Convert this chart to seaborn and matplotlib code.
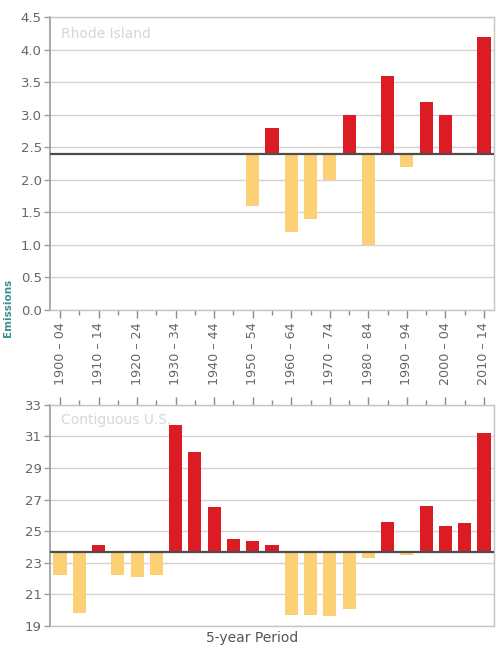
import numpy as np
import pandas as pd
import matplotlib
matplotlib.use("Agg")
import matplotlib.pyplot as plt
import seaborn as sns

# Five-year periods, 1900-04 through 2010-14
periods = [
    "1900 – 04", "1905 – 09", "1910 – 14", "1915 – 19", "1920 – 24", "1925 – 29",
    "1930 – 34", "1935 – 39", "1940 – 44", "1945 – 49", "1950 – 54", "1955 – 59",
    "1960 – 64", "1965 – 69", "1970 – 74", "1975 – 79", "1980 – 84", "1985 – 89",
    "1990 – 94", "1995 – 99", "2000 – 04", "2005 – 09", "2010 – 14",
]

# Rhode Island (records begin in the 1950s)
ri_values = [np.nan] * 10 + [1.6, 2.8, 1.2, 1.4, 2.0, 3.0, 1.0, 3.6, 2.2, 3.2, 3.0, np.nan, 4.2]
ri_baseline = 2.4

# Contiguous U.S.
us_values = [22.2, 19.8, 24.1, 22.2, 22.1, 22.2, 31.7, 30.0, 26.5, 24.5, 24.4, 24.1,
             19.7, 19.7, 19.6, 20.1, 23.3, 25.6, 23.5, 26.6, 25.3, 25.5, 31.2]
us_baseline = 23.7

ri_ticks = [0.0, 0.5, 1.0, 1.5, 2.0, 2.5, 3.0, 3.5, 4.0, 4.5]
us_ticks = [19, 21, 23, 25, 27, 29, 31, 33]

RED = "#dc1c24"
YELLOW = "#fcd175"
GRID = "#d4d4d4"
SPINE = "#c4c4c4"
TEXT = "#666666"

sns.set_theme(style="white")
plt.rcParams["font.family"] = ["DejaVu Sans"]

fig = plt.figure(figsize=(5.0, 6.54), dpi=100)
ax1 = fig.add_axes([0.100, 0.526, 0.888, 0.448])
ax2 = fig.add_axes([0.100, 0.043, 0.888, 0.338])


def draw_panel(ax, values, baseline, yticks, title):
    df = pd.DataFrame({"period": periods, "value": values})
    df = df.dropna()
    df["dev"] = df["value"] - baseline
    df["sign"] = np.where(df["dev"] >= 0, "above", "below")
    sns.barplot(data=df, x="period", y="dev", hue="sign", order=periods,
                palette={"above": RED, "below": YELLOW}, saturation=1,
                width=0.68, bottom=baseline, errorbar=None, legend=False,
                dodge=False, linewidth=0, ax=ax, zorder=2)
    ax.set_xlim(-0.52, len(periods) - 0.48)
    ax.set_ylim(yticks[0], yticks[-1])
    ax.set_yticks(yticks)
    ax.yaxis.grid(True, color=GRID, linewidth=1.0)
    ax.xaxis.grid(False)
    ax.set_axisbelow(True)
    ax.axhline(baseline, color="#4d4d4d", linewidth=1.6, zorder=3)
    ax.set_xlabel("")
    ax.set_ylabel("")
    for side in ["top", "right", "bottom"]:
        ax.spines[side].set_color(SPINE)
        ax.spines[side].set_linewidth(1.0)
    ax.spines["left"].set_color("#9a9a9a")
    ax.spines["left"].set_linewidth(1.2)
    ax.tick_params(axis="y", labelsize=9.5, labelcolor=TEXT, color="#9a9a9a",
                   length=4, width=1, left=True, pad=2)
    ax.text(0.025, 0.965, title, transform=ax.transAxes, ha="left", va="top",
            fontsize=10, color="#d6d6d6")
    ax.set_xticks(range(0, len(periods), 2))
    ax.set_xticks(range(1, len(periods), 2), minor=True)


draw_panel(ax1, ri_values, ri_baseline, ri_ticks, "Rhode Island")
draw_panel(ax2, us_values, us_baseline, us_ticks, "Contiguous U.S.")

ax1.set_yticklabels([f"{t:.1f}" for t in ri_ticks])
ax1.set_xticklabels(periods[::2], rotation=90)
ax1.tick_params(axis="x", which="both", bottom=True, color="#8a8a8a", width=1,
                labelsize=9.2, labelcolor=TEXT, pad=3)
ax1.tick_params(axis="x", which="major", length=6)
ax1.tick_params(axis="x", which="minor", length=3.5)

ax2.set_yticklabels([str(t) for t in us_ticks])
ax2.xaxis.set_ticks_position("top")
ax2.tick_params(axis="x", which="both", top=True, bottom=False, labeltop=False,
                labelbottom=False, color="#8a8a8a", width=1)
ax2.tick_params(axis="x", which="major", length=6)
ax2.tick_params(axis="x", which="minor", length=3.5)

fig.text(0.505, 0.0245, "5-year Period", ha="center", va="center",
         fontsize=10, color="#555555")
fig.text(0.026, 0.53, "Emissions", rotation=90, ha="right", va="center",
         fontsize=7.5, color="#3f8f8f", fontweight="bold")

fig.savefig("out.png", dpi=100)
